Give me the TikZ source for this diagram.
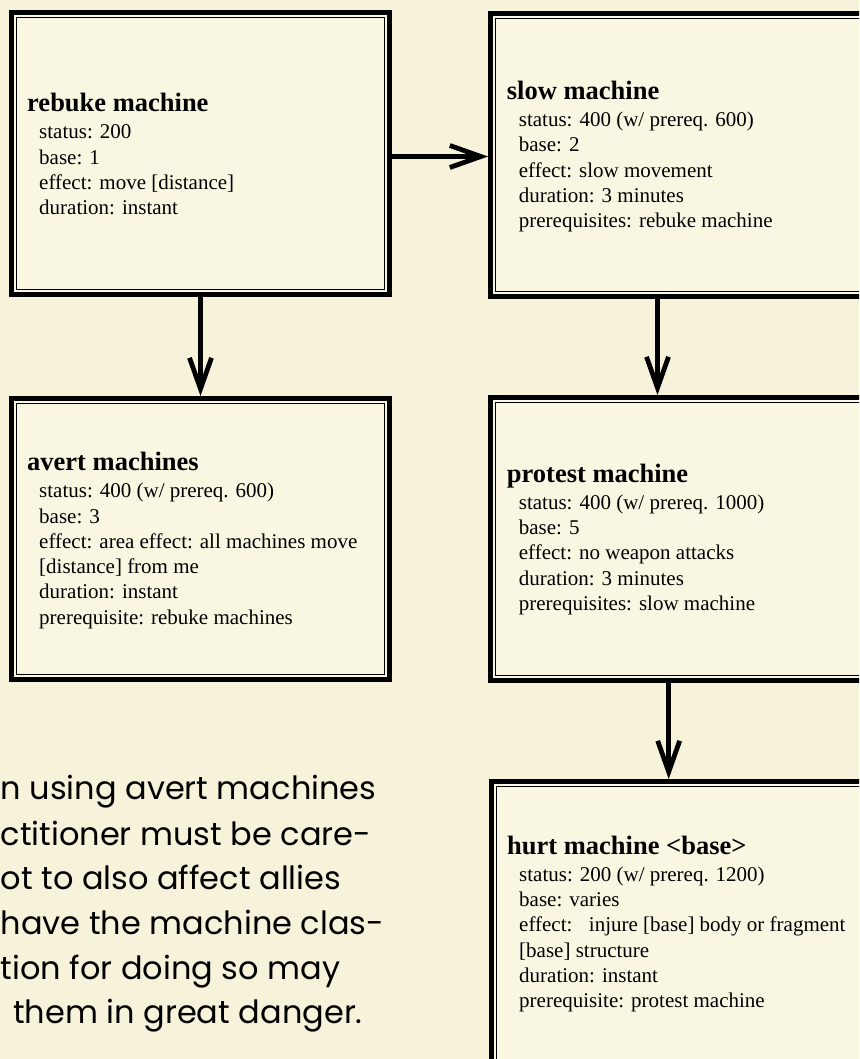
\documentclass[tikz,border=0pt]{standalone}
\usepackage{fontspec}
\setmainfont{Liberation Serif}
\newfontfamily\notefont{Poppins}
\usetikzlibrary{arrows.meta,calc}

\definecolor{paper}{RGB}{247,243,219}
\definecolor{cardfill}{RGB}{249,246,226}

% text block of a card: bold title, then indented detail lines
\newcommand\cardtext[2]{%
  \parbox[t]{360pt}{\raggedright\setlength\parindent{0pt}\setlength\parskip{0pt}%
    {\fontsize{26.5}{27}\selectfont\bfseries #1\par}\vspace{1.7pt}%
    \fontsize{21}{25.3}\selectfont\leftskip=12pt #2\par}}

\tikzset{
  card/.style={draw=black, line width=5pt, fill=cardfill, rectangle, inner sep=0pt},
  cardlabel/.style={anchor=base west, inner sep=0pt},
  flow/.style={draw=black, line width=4.8pt, -{Straight Barb[length=31pt,width=22pt]}},
  note/.style={anchor=base west, inner sep=0pt, font=\notefont\fontsize{32}{40}\selectfont}
}

\begin{document}
\begin{tikzpicture}[x=1pt,y=-1pt]
\useasboundingbox (0,0) rectangle (859,1059);
\clip (0,0) rectangle (859,1059);
\fill[paper] (0,0) rectangle (859,1059);

% cards
\node[card, minimum width=378pt, minimum height=282pt] (rebuke)  at (200.5,153.5) {};
\node[card, minimum width=507pt, minimum height=283pt] (slow)    at (744,155) {};
\node[card, minimum width=378pt, minimum height=281pt] (avert)   at (200.5,539) {};
\node[card, minimum width=507pt, minimum height=283pt] (protest) at (744,539) {};
\node[card, minimum width=506pt, minimum height=416pt] (hurt)    at (744.5,989.5) {};

% thin inner frame of every card
\foreach \c in {rebuke,slow,avert,protest,hurt}
  \draw[line width=1pt] ([xshift=7.5pt,yshift=-7.5pt]\c.north west)
    rectangle ([xshift=-7.5pt,yshift=7.5pt]\c.south east);

% card texts
\node[cardlabel] (rebuke-text) at (27,112)
  {\cardtext{rebuke machine}{status: 200\\base: 1\\effect: move [distance]\\duration: instant}};
\node[cardlabel] (slow-text) at (506.7,99.5)
  {\cardtext{slow machine}{status: 400 (w/ prereq. 600)\\base: 2\\effect: slow movement\\duration: 3 minutes\\prerequisites: rebuke machine}};
\node[cardlabel] (avert-text) at (27,470.7)
  {\cardtext{avert machines}{status: 400 (w/ prereq. 600)\\base: 3\\effect: area effect: all machines move\\{[distance]} from me\\duration: instant\\prerequisite: rebuke machines}};
\node[cardlabel] (protest-text) at (506.7,482.3)
  {\cardtext{protest machine}{status: 400 (w/ prereq. 1000)\\base: 5\\effect: no weapon attacks\\duration: 3 minutes\\prerequisites: slow machine}};
\node[cardlabel] (hurt-text) at (507,854.3)
  {\cardtext{hurt machine <base>}{status: 200 (w/ prereq. 1200)\\base: varies\\effect:\hspace*{16.5pt}injure [base] body or fragment\\{[base]} structure\\duration: instant\\prerequisite: protest machine}};

% connectors
\draw[flow] ([yshift=-3pt]rebuke.east) -- ([yshift=-3pt]rebuke.east -| slow.west);
\draw[flow] (rebuke.south) -- (avert.north);
\draw[flow] ([xshift=169.5pt]slow.south west) -- ([xshift=169.5pt]slow.south west |- protest.north);
\draw[flow] ([xshift=180.7pt]protest.south west) -- ([xshift=180.7pt]protest.south west |- hurt.north);

% side note
\node[note] (note1) at (0.5,799)   {n using avert machines};
\node[note] (note2) at (0.5,845)   {ctitioner must be care-};
\node[note] (note3) at (0.5,889.3) {ot to also affect allies};
\node[note] (note4) at (0.5,934.3) {have the machine clas-};
\node[note] (note5) at (0.5,979)   {tion for doing so may};
\node[note] (note6) at (13,1023.3) {them in great danger.};
\end{tikzpicture}
\end{document}
